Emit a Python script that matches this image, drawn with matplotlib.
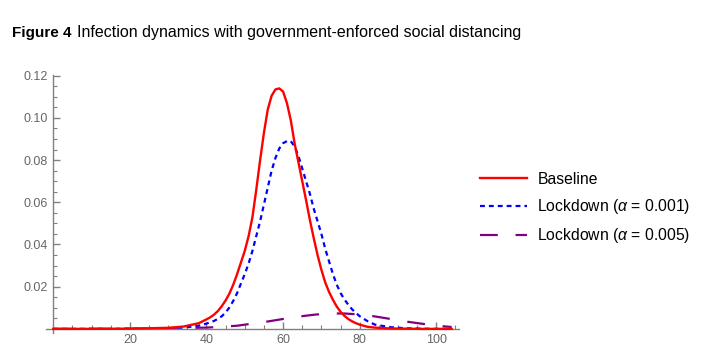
import matplotlib
matplotlib.use("Agg")
import matplotlib.pyplot as plt
from matplotlib.ticker import MultipleLocator, FixedLocator

plt.rcParams['font.family'] = ['Liberation Sans', 'DejaVu Sans']
plt.rcParams['mathtext.fontset'] = 'custom'
plt.rcParams['mathtext.rm'] = 'Liberation Sans'
plt.rcParams['mathtext.it'] = 'Liberation Sans:italic'

# ---- data ----
t_base = [0, 10, 20, 30, 34, 38, 40, 41, 42, 43, 44, 45, 46, 47, 48, 49, 50, 51, 52, 53, 54, 55, 56, 57,
          58, 59, 60, 61, 62, 63, 64, 65, 66, 67, 68, 69, 70, 71, 72, 73, 74, 75, 76, 77, 78, 79, 80,
          82, 84, 88, 92, 96, 100, 104]
baseline = [0.0, 0.00002, 0.0001, 0.0005, 0.0011, 0.0027, 0.0045, 0.0055, 0.0068, 0.0085, 0.0108,
            0.0135, 0.0168, 0.021, 0.026, 0.0315, 0.037, 0.044, 0.053, 0.066, 0.080, 0.093, 0.104,
            0.1105, 0.1135, 0.114, 0.1125, 0.107, 0.099, 0.088, 0.079, 0.070, 0.061, 0.0516, 0.043,
            0.035, 0.028, 0.022, 0.0175, 0.0138, 0.0106, 0.0081, 0.0062, 0.0047, 0.0036, 0.0027,
            0.002, 0.001, 0.0006, 0.0002, 0.0001, 0.0, 0.0, 0.0]

t_l1 = [0, 10, 20, 30, 34, 38, 40, 42, 43, 44, 45, 46, 47, 48, 49, 50, 51, 52, 53, 54, 55, 56, 57, 58,
        59, 60, 61, 62, 63, 64, 65, 66, 67, 68, 69, 70, 71, 72, 73, 74, 75, 76, 77, 78, 79, 80, 82,
        84, 88, 92, 96, 100, 104]
lockdown_001 = [0.0, 0.00001, 0.00005, 0.0003, 0.0006, 0.0015, 0.0025, 0.0038, 0.0048, 0.006, 0.0078,
                0.0102, 0.0133, 0.017, 0.0215, 0.026, 0.031, 0.037, 0.044, 0.051, 0.059, 0.067,
                0.075, 0.081, 0.0855, 0.088, 0.089, 0.089, 0.0865, 0.082, 0.076, 0.070, 0.064, 0.057,
                0.051, 0.045, 0.038, 0.032, 0.026, 0.021, 0.017, 0.014, 0.0115, 0.0093, 0.0076,
                0.006, 0.0037, 0.002, 0.0008, 0.0003, 0.0001, 0.0, 0.0]

t_l5 = [0, 10, 20, 30, 40, 44, 48, 52, 56, 60, 64, 68, 72, 76, 80, 84, 88, 92, 96, 100, 104]
lockdown_005 = [0.0, 0.00002, 0.0001, 0.0002, 0.0006, 0.001, 0.0015, 0.0025, 0.0035, 0.0047, 0.0058,
                0.0067, 0.0073, 0.0073, 0.0068, 0.0059, 0.0047, 0.0035, 0.0025, 0.0015, 0.0009]

labels = ["Baseline", "Lockdown ($\\alpha$ = 0.001)", "Lockdown ($\\alpha$ = 0.005)"]
x_major = [20, 40, 60, 80, 100]
y_major = [0.02, 0.04, 0.06, 0.08, 0.10, 0.12]

# ---- figure ----
fig = plt.figure(figsize=(7.04, 3.54), dpi=100)
ax = fig.add_axes([45.6 / 704, 1 - 333.1 / 354, (459.3 - 45.6) / 704, (333.1 - 75.1) / 354])

ax.plot(t_base, baseline, color='#ff0000', lw=1.7, label=labels[0], zorder=3)
ax.plot(t_l1, lockdown_001, color='#0000ff', lw=1.6, dashes=(2.2, 1.8), label=labels[1], zorder=2)
ax.plot(t_l5, lockdown_005, color='#800080', lw=1.6, dashes=(8, 8), label=labels[2], zorder=2)

ax.set_xlim(-2, 106)
ax.set_ylim(-0.002, 0.1203)

axis_color = '#808080'
for s in ['top', 'right']:
    ax.spines[s].set_visible(False)
ax.spines['left'].set_position(('data', 0))
ax.spines['bottom'].set_position(('data', 0))
for s in ['left', 'bottom']:
    ax.spines[s].set_color(axis_color)
    ax.spines[s].set_linewidth(1.0)

ax.xaxis.set_major_locator(FixedLocator(x_major))
ax.xaxis.set_minor_locator(MultipleLocator(5))
ax.yaxis.set_major_locator(FixedLocator(y_major))
ax.yaxis.set_minor_locator(MultipleLocator(0.005))
ax.set_xticklabels([str(v) for v in x_major])
ax.set_yticklabels([f"{v:.2f}" for v in y_major])

ax.tick_params(axis='both', which='major', direction='in', length=5, width=1, color=axis_color,
               labelsize=9, labelcolor='#666666')
ax.tick_params(axis='both', which='minor', direction='in', length=3, width=0.8, color=axis_color)
ax.tick_params(axis='x', which='major', pad=4)
ax.tick_params(axis='y', which='major', pad=4)

leg = ax.legend(loc='center left', bbox_to_anchor=(480 / 704, 1 - 208.5 / 354),
                bbox_transform=fig.transFigure, frameon=False, fontsize=11.3,
                handlelength=3.0, handletextpad=0.65, labelspacing=0.65,
                borderpad=0, borderaxespad=0)

fig.text(12 / 704, 1 - 37.5 / 354, "Figure 4", fontsize=11, fontweight='bold', va='baseline', ha='left')
fig.text(77 / 704, 1 - 37.5 / 354, "Infection dynamics with government-enforced social distancing",
         fontsize=11.5, va='baseline', ha='left')

fig.savefig("out.png", dpi=100)
